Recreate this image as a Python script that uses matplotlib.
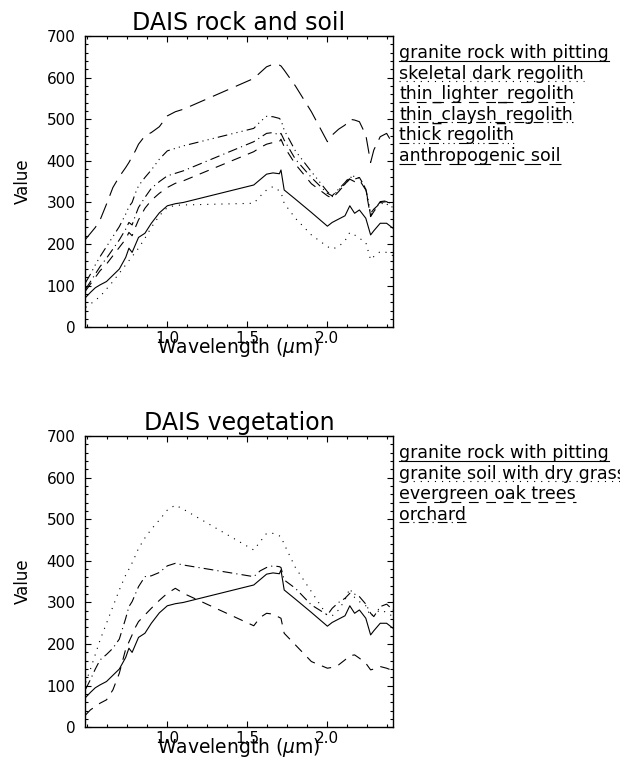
import matplotlib
matplotlib.use('Agg')
import matplotlib.pyplot as plt
from matplotlib.ticker import MultipleLocator, FixedLocator
from matplotlib.lines import Line2D

# ---------------- data ----------------
wavelength = [0.49, 0.52, 0.55, 0.58, 0.62, 0.66, 0.70, 0.74, 0.76, 0.78,
              0.80, 0.82, 0.86, 0.90, 0.95, 1.00, 1.05, 1.10, 1.54, 1.58,
              1.62, 1.66, 1.70, 1.71, 1.73, 1.80, 1.90, 2.00, 2.03, 2.07,
              2.11, 2.14, 2.17, 2.20, 2.24, 2.27, 2.29, 2.33, 2.37, 2.41]

granite_rock = [72, 84, 95, 102, 110, 125, 140, 168, 190, 180,
                198, 216, 226, 250, 275, 292, 297, 300, 342, 355,
                368, 371, 369, 378, 330, 308, 276, 243, 252, 260,
                268, 292, 274, 282, 262, 222, 232, 250, 250, 238]

skeletal_dark = [48, 56, 65, 74, 92, 110, 130, 150, 160, 170,
                 180, 190, 214, 240, 268, 288, 293, 294, 298, 315,
                 330, 338, 328, 325, 298, 262, 222, 194, 188, 194,
                 208, 228, 222, 214, 204, 162, 170, 182, 180, 172]

thin_lighter = [88, 104, 120, 136, 152, 172, 192, 212, 228, 220,
                240, 258, 286, 305, 322, 336, 346, 352, 422, 432,
                440, 444, 446, 452, 434, 392, 345, 316, 310, 326,
                344, 356, 350, 354, 330, 266, 278, 300, 302, 292]

thin_claysh = [92, 110, 128, 146, 166, 188, 210, 236, 252, 246,
               268, 288, 312, 334, 350, 364, 370, 376, 446, 456,
               466, 468, 462, 466, 450, 404, 360, 322, 316, 332,
               348, 362, 356, 360, 334, 268, 280, 302, 304, 294]

thick_regolith = [108, 128, 150, 170, 194, 218, 242, 272, 290, 300,
                  322, 340, 360, 378, 404, 424, 430, 436, 478, 494,
                  507, 506, 502, 498, 474, 424, 374, 326, 314, 330,
                  344, 358, 364, 358, 332, 274, 284, 298, 296, 288]

anthropogenic_soil = [212, 226, 240, 258, 296, 336, 362, 384, 396, 410,
                      424, 440, 460, 468, 482, 508, 518, 524, 598, 612,
                      626, 632, 630, 628, 618, 580, 518, 446, 462, 476,
                      486, 500, 498, 494, 462, 396, 426, 458, 466, 440]

dry_grass_soil = [108, 140, 175, 210, 250, 290, 330, 366, 380, 395,
                  412, 430, 455, 476, 498, 522, 534, 524, 426, 446,
                  466, 466, 460, 458, 440, 384, 326, 268, 268, 282,
                  306, 334, 312, 302, 292, 266, 272, 282, 276, 266]

evergreen_oak = [30, 42, 50, 58, 66, 90, 130, 188, 205, 222,
                 240, 254, 270, 286, 305, 322, 334, 322, 244, 264,
                 274, 272, 264, 262, 226, 198, 158, 142, 144, 150,
                 162, 172, 174, 166, 154, 138, 140, 146, 142, 136]

orchard = [92, 115, 140, 162, 175, 190, 212, 262, 290, 302,
           320, 338, 362, 364, 372, 388, 394, 390, 362, 376,
           384, 388, 386, 384, 354, 334, 294, 270, 286, 300,
           310, 322, 320, 314, 296, 274, 266, 290, 296, 282]

top_title = "DAIS rock and soil"
bottom_title = "DAIS vegetation"
top_names = ["granite rock with pitting", "skeletal dark regolith",
             "thin_lighter_regolith", "thin_claysh_regolith",
             "thick regolith", "anthropogenic soil"]
bottom_names = ["granite rock with pitting", "granite soil with dry grass",
                "evergreen oak trees", "orchard"]
x_ticks = [1.0, 1.5, 2.0]
x_tick_labels = ["1.0", "1.5", "2.0"]
x_label = r"Wavelength ($\mu$m)"
y_label = "Value"

# ---------------- styles ----------------
plt.rcParams['lines.scale_dashes'] = False
plt.rcParams['font.family'] = ['DejaVu Sans']

W, H = 620, 771
fig = plt.figure(figsize=(W / 100, H / 100), dpi=100)
fig.patch.set_facecolor('white')

LS = {
    'solid': '-',
    'dotted': (0, (0.8, 4.3)),
    'dashed': (0, (7, 5.5)),
    'dashdot': (0, (7, 3, 0.8, 3)),
    'dash3dot': (0, (7, 3, 0.8, 3, 0.8, 3, 0.8, 3)),
    'longdash': (0, (12, 6)),
}

top_series = [granite_rock, skeletal_dark, thin_lighter, thin_claysh,
              thick_regolith, anthropogenic_soil]
top_styles = ['solid', 'dotted', 'dashed', 'dashdot', 'dash3dot', 'longdash']
bottom_series = [granite_rock, dry_grass_soil, evergreen_oak, orchard]
bottom_styles = ['solid', 'dotted', 'dashed', 'dashdot']

AX_L, AX_W, AX_H = 85.3, 307.4, 291.3
legend_items = []


def panel(top_px, title, names, series, styles):
    ax = fig.add_axes([AX_L / W, 1 - (top_px + AX_H) / H, AX_W / W, AX_H / H])
    for vals, st in zip(series, styles):
        ax.plot(wavelength, vals, color='black', lw=0.8, linestyle=LS[st])
    ax.set_xlim(0.4875, 2.408)
    ax.set_ylim(0, 700)
    ax.xaxis.set_major_locator(FixedLocator(x_ticks))
    ax.set_xticklabels(x_tick_labels)
    ax.xaxis.set_minor_locator(MultipleLocator(0.125))
    ax.yaxis.set_major_locator(MultipleLocator(100))
    ax.yaxis.set_minor_locator(MultipleLocator(20))
    ax.tick_params(which='both', direction='in', top=True, right=True,
                   width=0.8, color='black')
    ax.tick_params(which='major', length=4.3)
    ax.tick_params(which='minor', length=2.2)
    ax.tick_params(axis='x', pad=3, labelsize=11)
    ax.tick_params(axis='y', pad=7, labelsize=11)
    for s in ax.spines.values():
        s.set_linewidth(1.0)
    cx = (AX_L + AX_W / 2) / W
    fig.text(cx, 1 - (top_px - 6) / H, title, fontsize=17,
             ha='center', va='baseline')
    fig.text(cx, 1 - (top_px + 317) / H, x_label, fontsize=13.5,
             ha='center', va='baseline')
    fig.text(23 / W, 1 - (top_px + AX_H / 2) / H, y_label, fontsize=12,
             rotation=90, ha='center', va='center')
    for i, (nm, st) in enumerate(zip(names, styles)):
        yb = top_px + 22 + i * 20.6
        t = fig.text(399 / W, 1 - yb / H, nm, fontsize=12.5,
                     ha='left', va='baseline')
        legend_items.append((t, yb, st))
    return ax


panel(36, top_title, top_names, top_series, top_styles)
panel(436, bottom_title, bottom_names, bottom_series, bottom_styles)

fig.canvas.draw()
renderer = fig.canvas.get_renderer()
for t, yb, st in legend_items:
    bb = t.get_window_extent(renderer).transformed(fig.transFigure.inverted())
    yu = 1 - (yb + 2.5) / H
    fig.add_artist(Line2D([bb.x0, bb.x1], [yu, yu], transform=fig.transFigure,
                          color='black', lw=0.8, linestyle=LS[st]))

fig.savefig('out.png', dpi=100, facecolor='white')
